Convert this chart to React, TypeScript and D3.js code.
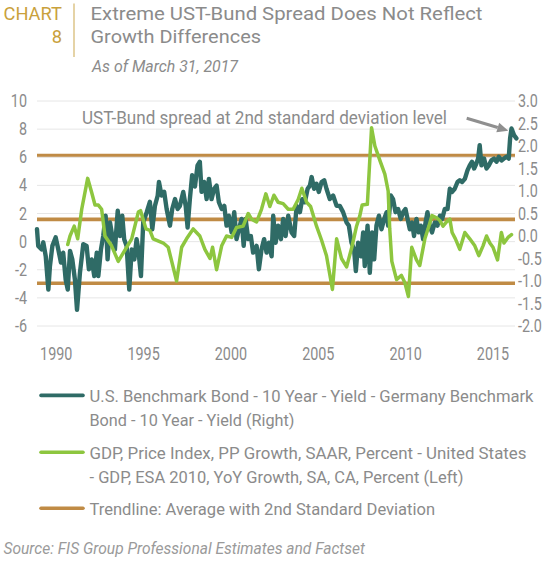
import React from 'react';
import { scaleLinear, line } from 'd3';

const yearTicks = [1990, 1995, 2000, 2005, 2010, 2015];
const leftTicks = [-6, -4, -2, 0, 2, 4, 6, 8, 10];
const rightTicks = [-2, -1.5, -1, -0.5, 0, 0.5, 1, 1.5, 2, 2.5, 3];

// [decimal year, UST - Bund 10y spread] -> right axis
const spread: [number, number][] = [
  [1988.9, 0.15], [1988.97, -0.22], [1989.17, -0.3], [1989.26, -0.14], [1989.4, -0.45], [1989.55, -1.19],
  [1989.64, -0.67], [1989.78, -0.22], [1989.97, -0.03], [1990.12, -0.3], [1990.27, -0.59], [1990.4, -0.37],
  [1990.54, -0.97], [1990.66, -1.19], [1990.79, -0.33], [1990.92, -0.52], [1991.07, -0.97], [1991.19, -1.64],
  [1991.36, -0.81], [1991.55, -0.18], [1991.74, -0.22], [1991.87, -0.74], [1992.03, -0.52], [1992.18, -0.89],
  [1992.32, -0.37], [1992.41, -0.89], [1992.56, -0.3], [1992.69, 0.0], [1992.83, 0.45], [1992.94, -0.52],
  [1993.08, 0.3], [1993.21, 0.0], [1993.36, -0.3], [1993.52, 0.56], [1993.65, 0.0], [1993.78, 0.45],
  [1993.89, -0.07], [1994.03, -0.22], [1994.18, -1.19], [1994.32, -0.3], [1994.47, -0.52], [1994.6, -0.07],
  [1994.7, -0.3], [1994.85, -0.89], [1994.98, 0.3], [1995.18, 0.53], [1995.36, 0.76], [1995.5, 0.15],
  [1995.65, 0.67], [1995.81, 0.9], [1995.88, 1.2], [1996.03, 0.9], [1996.18, 0.98], [1996.32, 0.6],
  [1996.51, 0.23], [1996.64, 0.6], [1996.8, 0.82], [1996.95, 0.6], [1997.08, 0.67], [1997.27, 0.98],
  [1997.41, 0.67], [1997.52, 0.19], [1997.65, 0.82], [1997.78, 1.35], [1997.94, 1.1], [1998.09, 1.57],
  [1998.22, 1.65], [1998.32, 0.98], [1998.47, 1.2], [1998.61, 0.82], [1998.74, 1.27], [1998.89, 0.82],
  [1999.04, 1.05], [1999.18, 1.12], [1999.31, 0.75], [1999.47, 0.6], [1999.62, 0.67], [1999.75, 0.23],
  [1999.88, 0.45], [2000.04, 0.08], [2000.19, 0.53], [2000.32, -0.07], [2000.46, 0.15], [2000.61, 0.38],
  [2000.73, -0.22], [2000.84, 0.38], [2000.99, -0.07], [2001.14, 0.0], [2001.27, -0.37], [2001.47, -0.22],
  [2001.6, -0.74], [2001.75, -0.3], [2001.9, -0.07], [2002.04, -0.37], [2002.17, -0.15], [2002.33, -0.45],
  [2002.42, 0.45], [2002.56, -0.15], [2002.7, 0.23], [2002.86, -0.07], [2002.99, 0.38], [2003.13, 0.0],
  [2003.28, 0.45], [2003.47, 0.08], [2003.62, 0.0], [2003.76, 0.67], [2003.95, 0.53], [2004.08, 0.82],
  [2004.23, 0.75], [2004.39, 1.05], [2004.52, 1.12], [2004.62, 1.31], [2004.76, 1.05], [2004.9, 1.16],
  [2005.03, 0.98], [2005.19, 1.2], [2005.34, 1.24], [2005.47, 1.05], [2005.66, 0.82], [2005.85, 0.9],
  [2006.05, 0.67], [2006.23, 0.67], [2006.42, 0.53], [2006.62, 0.3], [2006.75, 0.23], [2006.9, -0.15],
  [2007.05, -0.3], [2007.15, -0.78], [2007.28, -0.15], [2007.44, -0.45], [2007.57, 0.08], [2007.66, -0.67],
  [2007.82, 0.23], [2007.95, -0.82], [2008.08, 0.08], [2008.2, -0.52], [2008.33, 0.23], [2008.47, 0.45],
  [2008.62, 0.15], [2008.77, 0.38], [2008.91, 0.53], [2009.0, 0.23], [2009.15, 0.9], [2009.28, 0.82],
  [2009.42, 0.53], [2009.57, 0.6], [2009.72, 0.38], [2009.86, 0.53], [2009.99, 0.6], [2010.11, 0.38],
  [2010.24, 0.15], [2010.37, 0.3], [2010.48, 0.0], [2010.62, 0.38], [2010.75, 0.08], [2010.87, 0.23],
  [2011.0, -0.07], [2011.14, 0.3], [2011.25, 0.53], [2011.38, 0.23], [2011.51, 0.08], [2011.67, 0.3],
  [2011.82, 0.23], [2011.96, 0.45], [2012.09, 0.38], [2012.24, 0.6], [2012.4, 0.6], [2012.53, 1.05],
  [2012.66, 0.98], [2012.81, 1.05], [2012.97, 1.2], [2013.1, 1.24], [2013.23, 1.2], [2013.39, 1.27],
  [2013.54, 1.46], [2013.67, 1.57], [2013.8, 1.65], [2013.92, 1.5], [2014.05, 1.61], [2014.15, 1.72],
  [2014.24, 2.02], [2014.34, 1.57], [2014.49, 1.72], [2014.63, 1.5], [2014.76, 1.57], [2014.91, 1.68],
  [2015.06, 1.72], [2015.2, 1.65], [2015.33, 1.76], [2015.49, 1.68], [2015.63, 1.72], [2015.77, 1.76],
  [2015.9, 1.72], [2015.98, 2.17], [2016.06, 2.39], [2016.21, 2.24], [2016.34, 2.17],
];

// [decimal year, GDP growth series] -> left axis
const gdp: [number, number][] = [
  [1990.66, -0.2], [1990.79, 0.4], [1991.03, 1.1], [1991.23, 0.2], [1991.46, 2.3], [1991.8, 4.5],
  [1992.03, 3.5], [1992.22, 2.6], [1992.41, 2.6], [1992.6, 2.3], [1992.79, 0.4], [1993.17, -0.3],
  [1993.55, -1.4], [1994.32, 0.2], [1994.7, 2.1], [1994.83, 2.2], [1995.14, 0.9], [1995.36, 0.8],
  [1995.55, 0.2], [1996.13, -0.1], [1996.41, -0.4], [1996.89, -2.8], [1997.18, -0.4], [1997.46, 0.2],
  [1997.84, 0.9], [1998.22, 0.4], [1998.51, -0.55], [1998.8, -1.2], [1998.95, -0.4], [1999.18, -2.0],
  [1999.47, -0.3], [1999.75, 0.4], [2000.04, 0.3], [2000.32, 1.0], [2000.7, 1.1], [2000.99, 2.0],
  [2001.18, 1.6], [2001.47, 1.4], [2001.75, 2.3], [2002.0, 3.4], [2002.23, 2.5], [2002.46, 3.3],
  [2002.7, 2.8], [2002.99, 2.7], [2003.28, 2.3], [2003.56, 2.3], [2003.85, 3.0], [2004.06, 3.8],
  [2004.33, 2.8], [2004.56, 2.5], [2004.9, 1.1], [2005.19, 0.1], [2005.47, -1.0], [2005.81, -3.4],
  [2006.05, 0.2], [2006.33, -1.2], [2006.62, -1.8], [2006.92, -0.4], [2007.19, 1.1], [2007.38, 1.85],
  [2007.51, 2.6], [2007.81, 2.65], [2008.05, 8.1], [2008.24, 6.8], [2008.52, 5.8], [2008.81, 4.8],
  [2009.0, 3.6], [2009.09, 0.9], [2009.21, -1.4], [2009.48, -2.7], [2009.76, -2.4], [2009.95, -2.9],
  [2010.16, -3.9], [2010.35, -0.4], [2010.62, -1.3], [2010.81, -1.7], [2011.1, 0.2], [2011.33, 1.1],
  [2011.51, 1.85], [2011.77, 1.7], [2011.96, 1.5], [2012.14, 1.1], [2012.34, 1.4], [2012.53, 1.6],
  [2012.66, 0.65], [2012.85, 0.2], [2013.1, -0.55], [2013.39, 0.65], [2013.67, 0.2], [2013.96, -0.3],
  [2014.19, -1.0], [2014.43, -0.3], [2014.63, 0.4], [2014.82, -0.1], [2015.0, -0.4], [2015.26, -1.3],
  [2015.48, 0.65], [2015.63, -0.1], [2015.86, 0.3], [2016.06, 0.5],
];

// average and +/- 2nd standard deviation of the spread (right axis)
const trendLevels = [1.79, 0.37, -1.05];

const legendLabels = [
  ['U.S. Benchmark Bond - 10 Year - Yield - Germany Benchmark', 'Bond - 10 Year - Yield (Right)'],
  ['GDP, Price Index, PP Growth, SAAR, Percent - United States', '- GDP, ESA 2010, YoY Growth, SA, CA, Percent (Left)'],
  ['Trendline: Average with 2nd Standard Deviation'],
];

const TEAL = '#2f6b66';
const GREEN = '#8dc63f';
const ORANGE = '#c08b45';
const GOLD = '#c9a13c';
const GRAY = '#8b8b8b';
const GRID = '#e6e6e6';
const FONT = 'Roboto, "Liberation Sans", sans-serif';

const W = 550;
const H = 571;

// condensed label (original chart uses a narrow face)
const Narrow: React.FC<{ x: number; y: number; anchor?: string; size?: number; children: React.ReactNode }> = ({
  x, y, anchor = 'start', size = 17.5, children,
}) => (
  <text transform={`translate(${x},${y}) scale(0.82,1)`} textAnchor={anchor} fontSize={size} fill={GRAY}>
    {children}
  </text>
);

const App: React.FC = () => {
  const x = scaleLinear().domain([1988.9, 2016.26]).range([37, 515]);
  const yL = scaleLinear().domain([-6, 10]).range([326, 101]);
  const yR = scaleLinear().domain([-2, 3]).range([326, 101]);

  const spreadLine = line<[number, number]>().x(d => x(d[0])).y(d => yR(d[1]));
  const gdpLine = line<[number, number]>().x(d => x(d[0])).y(d => yL(d[1]));

  // annotation arrow
  const s = [466.7, 118.3];
  const t = [508.3, 130.7];
  const len = Math.hypot(t[0] - s[0], t[1] - s[1]);
  const ux = (t[0] - s[0]) / len;
  const uy = (t[1] - s[1]) / len;
  const bx = t[0] - ux * 11;
  const by = t[1] - uy * 11;
  const head = `${t[0]},${t[1]} ${bx - uy * 5},${by + ux * 5} ${bx + uy * 5},${by - ux * 5}`;

  const legendColors = [TEAL, GREEN, ORANGE];
  const legendY = [395.4, 452.2, 508.3];
  const legendLens = [[444, 205], [437, 374], [345.6]];

  return (
    <div style={{ position: 'absolute', left: 0, top: 0 }}>
      <svg width={W} height={H} fontFamily={FONT} style={{ display: 'block', background: '#fff' }}>
        {/* header */}
        <text x={62} y={19.5} textAnchor="end" fontSize={18.3} fill={GOLD}>CHART</text>
        <text x={62} y={43} textAnchor="end" fontSize={18.3} fill={GOLD}>8</text>
        <line x1={74} x2={74} y1={3.5} y2={57} stroke="#dcc488" strokeWidth={1.5} />
        <text x={90.5} y={19.5} fontSize={18.3} fill={GRAY} textLength={392} lengthAdjust="spacingAndGlyphs">
          Extreme UST-Bund Spread Does Not Reflect
        </text>
        <text x={90.5} y={42.8} fontSize={18.3} fill={GRAY} textLength={170.5} lengthAdjust="spacingAndGlyphs">
          Growth Differences
        </text>
        <text x={92} y={72} fontSize={17} fontStyle="italic" fill={GRAY} textLength={146} lengthAdjust="spacingAndGlyphs">
          As of March 31, 2017
        </text>

        {/* trendlines */}
        {trendLevels.map(v => (
          <line key={v} x1={37} x2={515} y1={yR(v)} y2={yR(v)} stroke={ORANGE} strokeWidth={3.6} />
        ))}

        {/* grid */}
        {leftTicks.map(v => (
          <line key={v} x1={37} x2={515} y1={yL(v)} y2={yL(v)} stroke={GRID} strokeWidth={1} />
        ))}

        {/* series */}
        <path d={spreadLine(spread) || ''} fill="none" stroke={TEAL} strokeWidth={4.4} strokeLinejoin="round" strokeLinecap="round" />
        <path d={gdpLine(gdp) || ''} fill="none" stroke={GREEN} strokeWidth={3.5} strokeLinejoin="round" strokeLinecap="round" />

        {/* axes labels */}
        {leftTicks.map(v => (
          <Narrow key={v} x={27} y={yL(v) + 6} anchor="end">{String(v)}</Narrow>
        ))}
        {rightTicks.map(v => (
          <Narrow key={v} x={518} y={yR(v) + 6}>{v.toFixed(1)}</Narrow>
        ))}
        {yearTicks.map(v => (
          <Narrow key={v} x={x(v)} y={359.5} anchor="middle">{String(v)}</Narrow>
        ))}

        {/* annotation */}
        <text x={82} y={124} fontSize={18.5} fill={GRAY} textLength={365} lengthAdjust="spacingAndGlyphs">
          UST-Bund spread at 2nd standard deviation level
        </text>
        <line x1={s[0]} y1={s[1]} x2={bx} y2={by} stroke="#8f8f8f" strokeWidth={3} />
        <polygon points={head} fill="#8f8f8f" />

        {/* legend */}
        {legendLabels.map((lines, i) => (
          <g key={i}>
            <line x1={41} x2={83} y1={legendY[i]} y2={legendY[i]} stroke={legendColors[i]} strokeWidth={3.6} strokeLinecap="round" />
            {lines.map((l, j) => (
              <text key={j} x={89.5} y={legendY[i] + 6.6 + j * 23.7} fontSize={16.6} fill={GRAY}
                textLength={legendLens[i][j]} lengthAdjust="spacingAndGlyphs">
                {l}
              </text>
            ))}
          </g>
        ))}

        <text x={3.5} y={554} fontSize={17} fontStyle="italic" fill="#9a9a9a" textLength={361.5} lengthAdjust="spacingAndGlyphs">
          Source: FIS Group Professional Estimates and Factset
        </text>
      </svg>
    </div>
  );
};

export default App;
